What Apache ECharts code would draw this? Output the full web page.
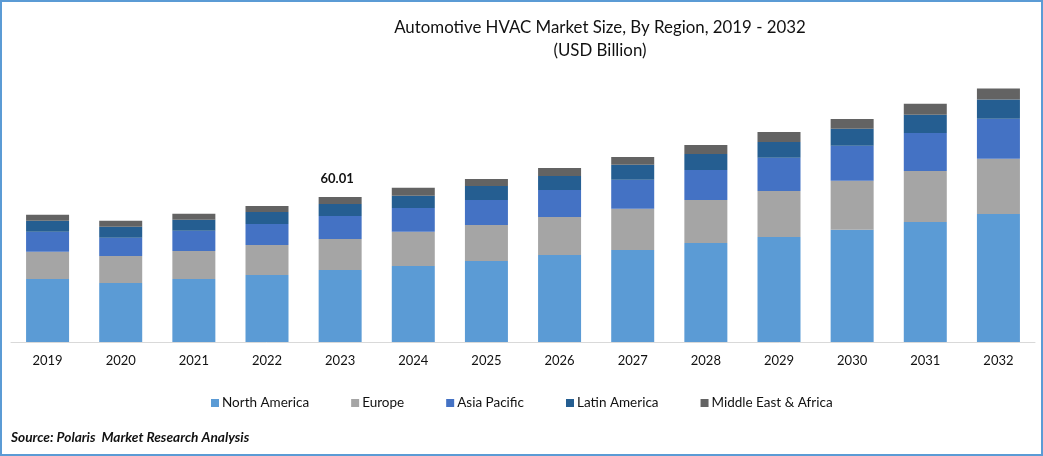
<!DOCTYPE html>
<html>
<head>
<meta charset="utf-8">
<title>Automotive HVAC Market Size</title>
<style>
html, body { margin: 0; padding: 0; background: #fff; }
#main { width: 1043px; height: 456px; }
</style>
<script src="https://cdn.jsdelivr.net/npm/echarts@6/dist/echarts.min.js"></script>
</head>
<body>
<div id="main"></div>
<script>
var years = ['2019','2020','2021','2022','2023','2024','2025','2026','2027','2028','2029','2030','2031','2032'];
var northAmerica = [26.1,24.4,26.1,27.7,29.8,31.5,33.5,36.0,38.1,41.0,43.5,46.4,49.7,53.0];
var europe = [11.2,11.2,11.6,12.4,12.8,14.1,14.9,15.7,17.0,17.8,19.0,20.3,21.1,22.8];
var asiaPacific = [8.3,7.5,8.3,8.7,9.5,9.9,10.4,11.2,12.0,12.4,13.7,14.5,15.7,16.6];
var latinAmerica = [4.6,4.6,4.6,5.0,5.0,5.0,5.8,5.8,6.2,6.6,6.6,7.0,7.5,7.9];
var middleEast = [2.5,2.5,2.5,2.5,2.9,3.3,2.9,3.3,3.3,3.7,4.1,4.1,4.6,4.6];
var totalLabels = { '2023': '60.01' };

var fontName = 'Lato';

function makeSeries(name, values, color) {
	return {
		name: name,
		type: 'bar',
		stack: 'total',
		barWidth: 43,
		itemStyle: { color: color },
		data: values
	};
}

var series = [
	makeSeries('North America', northAmerica, '#5b9bd5'),
	makeSeries('Europe', europe, '#a5a5a5'),
	makeSeries('Asia Pacific', asiaPacific, '#4472c4'),
	makeSeries('Latin America', latinAmerica, '#255e91'),
	makeSeries('Middle East & Africa', middleEast, '#636363')
];
// only the top segment carries the total, and only where the picture prints one
series[4].label = {
	show: true,
	position: 'top',
	distance: 12,
	offset: [-3, 0],
	fontFamily: fontName,
	fontSize: 13,
	fontWeight: 'bold',
	color: '#111',
	formatter: function (p) { return totalLabels[p.name] || ''; }
};

var myChart = echarts.init(document.getElementById('main'), null, { renderer: 'canvas' });
myChart.setOption({
	animation: false,
	backgroundColor: '#fff',
	title: {
		text: 'Automotive HVAC Market Size, By Region, 2019 - 2032\n(USD Billion)',
		left: 595,
		top: 11,
		textAlign: 'center',
		textStyle: {
			fontFamily: fontName,
			fontSize: 16.85,
			fontWeight: 'normal',
			color: '#111',
			lineHeight: 23
		}
	},
	legend: {
		left: 206,
		top: 391,
		itemWidth: 8,
		itemHeight: 8,
		itemGap: 42,
		icon: 'rect',
		textStyle: {
			fontFamily: fontName,
			fontSize: 13.5,
			color: '#111',
			padding: [0, 0, 0, -2]
		}
	},
	grid: { left: 11, right: 8, top: 52, bottom: 114 },
	xAxis: {
		type: 'category',
		data: years,
		axisTick: { show: false },
		axisLine: { lineStyle: { color: '#d9d9d9', width: 1 } },
		axisLabel: {
			fontFamily: fontName,
			fontSize: 13,
			color: '#111',
			margin: 12
		}
	},
	yAxis: {
		type: 'value',
		min: 0,
		max: 120,
		show: false
	},
	series: series,
	graphic: [
		{
			type: 'rect',
			shape: { x: 1, y: 1, width: 1041, height: 454 },
			style: { fill: 'none', stroke: '#5b9bd5', lineWidth: 2 },
			silent: true
		},
		{
			type: 'text',
			left: 11,
			top: 431,
			style: {
				text: 'Source: Polaris  Market Research Analysis',
				fontFamily: fontName,
				fontSize: 13.7,
				fontWeight: 'bold',
				fontStyle: 'italic',
				fill: '#111'
			}
		}
	]
});
</script>
</body>
</html>
